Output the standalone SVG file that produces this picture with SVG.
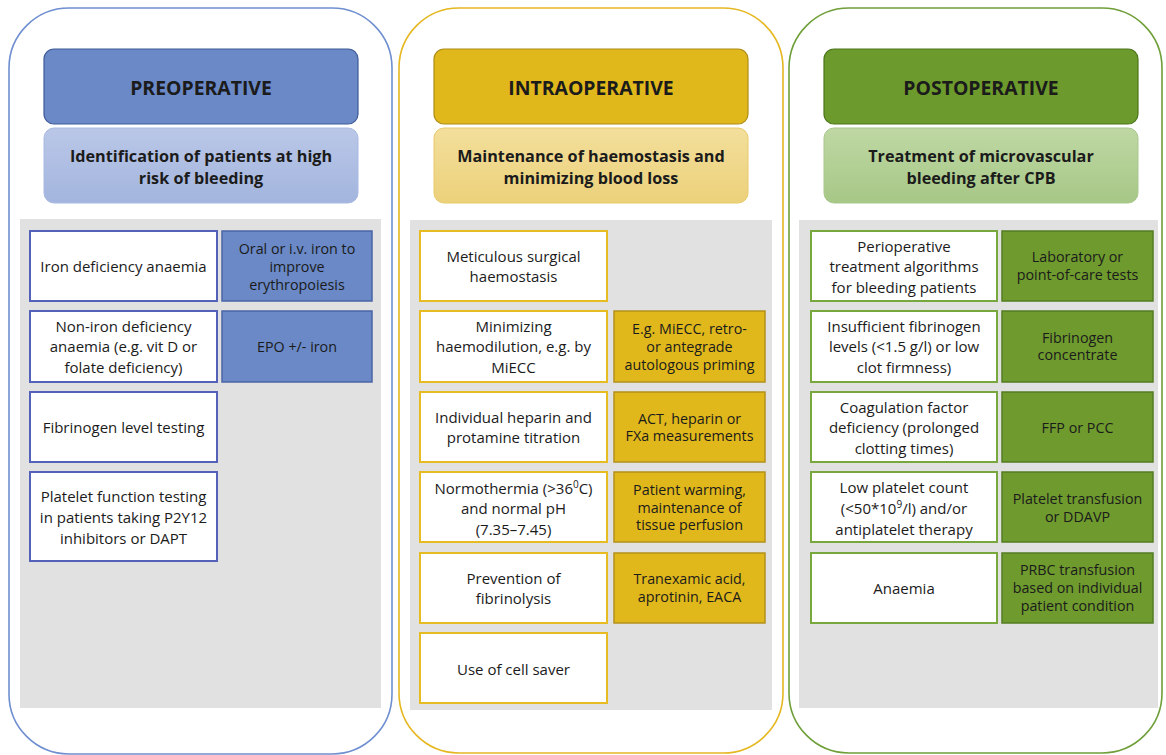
<svg xmlns="http://www.w3.org/2000/svg" width="1166" height="755" viewBox="0 0 1166 755">
<defs>
<linearGradient id="gBlue" x1="0" y1="0" x2="0" y2="1"><stop offset="0" stop-color="#bac7e7"/><stop offset="1" stop-color="#a3b5de"/></linearGradient>
<linearGradient id="gYel" x1="0" y1="0" x2="0" y2="1"><stop offset="0" stop-color="#f3df9c"/><stop offset="1" stop-color="#ecd17a"/></linearGradient>
<linearGradient id="gGrn" x1="0" y1="0" x2="0" y2="1"><stop offset="0" stop-color="#bfd8a4"/><stop offset="1" stop-color="#a6c786"/></linearGradient>
</defs>
<style>
text{font-family:"Open Sans","Liberation Sans",sans-serif;fill:#1b1b1b;text-anchor:middle}
.h{font-size:19.4px;font-weight:700}
.s{font-size:16.2px;font-weight:700}
.l{font-size:15px}
.r{font-size:14.3px}
.gray{fill:#e1e1e1}
.ob{fill:none;stroke:#6f8fd0;stroke-width:1.6}
.oy{fill:none;stroke:#e5b720;stroke-width:1.6}
.og{fill:none;stroke:#6f9f38;stroke-width:1.6}
.hb{fill:#6a89c6;stroke:#3e5a98;stroke-width:1.2}
.hy{fill:#e0b81b;stroke:#ae8c16;stroke-width:1.2}
.hg{fill:#6c9a2c;stroke:#4c761c;stroke-width:1.2}
.sb{fill:url(#gBlue);stroke:#a8bae2;stroke-width:1}
.sy{fill:url(#gYel);stroke:#e8ca6a;stroke-width:1}
.sg{fill:url(#gGrn);stroke:#a9c78c;stroke-width:1}
.wb{fill:#fff;stroke:#5362b8;stroke-width:2}
.wy{fill:#fff;stroke:#e6bc22;stroke-width:2}
.wg{fill:#fff;stroke:#78a73e;stroke-width:2}
.cb{fill:#6a89c6;stroke:#4a64a6;stroke-width:1.5}
.cy{fill:#e0b81b;stroke:#b2901a;stroke-width:1.5}
.cg{fill:#6e9a2e;stroke:#537c22;stroke-width:1.5}
</style>
<rect width="1166" height="755" fill="#fff"/>

<g id="col-pre">
<rect class="ob" x="9" y="8" width="383" height="746" rx="60"/>
<g id="pre-header"><rect class="hb" x="44" y="49" width="314" height="75" rx="10"/><text class="h" x="201" y="94.7">PREOPERATIVE</text></g>
<g id="pre-sub"><rect class="sb" x="44" y="128" width="314" height="75" rx="10"/><text class="s" x="201" y="161.5">Identification of patients at high</text><text class="s" x="201" y="183.5">risk of bleeding</text></g>
<rect class="gray" x="20" y="219" width="361" height="489"/>
<g id="pre-r1l"><rect class="wb" x="30" y="231" width="187" height="70"/><text class="l" x="123.5" y="271.6">Iron deficiency anaemia</text></g>
<g id="pre-r1r"><rect class="cb" x="222" y="231" width="150" height="70"/><text class="r" x="297" y="253.5">Oral or i.v. iron to</text><text class="r" x="297" y="271.5">improve</text><text class="r" x="297" y="289.5">erythropoiesis</text></g>
<g id="pre-r2l"><rect class="wb" x="30" y="311" width="187" height="71"/><text class="l" x="123.5" y="332">Non-iron deficiency</text><text class="l" x="123.5" y="352">anaemia (e.g. vit D or</text><text class="l" x="123.5" y="372.6">folate deficiency)</text></g>
<g id="pre-r2r"><rect class="cb" x="222" y="311" width="150" height="71"/><text class="r" x="297" y="351.5">EPO +/- iron</text></g>
<g id="pre-r3l"><rect class="wb" x="30" y="392" width="187" height="70"/><text class="l" x="123.5" y="433">Fibrinogen level testing</text></g>
<g id="pre-r4l"><rect class="wb" x="30" y="472" width="187" height="89"/><text class="l" x="123.5" y="502">Platelet function testing</text><text class="l" x="123.5" y="522.6">in patients taking P2Y12</text><text class="l" x="123.5" y="543.5">inhibitors or DAPT</text></g>
</g>

<g id="col-intra">
<rect class="oy" x="399" y="8" width="384" height="745" rx="60"/>
<g id="intra-header"><rect class="hy" x="434" y="49" width="314" height="75" rx="10"/><text class="h" x="591" y="94.7">INTRAOPERATIVE</text></g>
<g id="intra-sub"><rect class="sy" x="434" y="128" width="314" height="75" rx="10"/><text class="s" x="591" y="161.5">Maintenance of haemostasis and</text><text class="s" x="591" y="183.5">minimizing blood loss</text></g>
<rect class="gray" x="410" y="220" width="362" height="490"/>
<g id="intra-r1l"><rect class="wy" x="420" y="231" width="187" height="70"/><text class="l" x="513.5" y="261.5">Meticulous surgical</text><text class="l" x="513.5" y="282">haemostasis</text></g>
<g id="intra-r2l"><rect class="wy" x="420" y="311" width="187" height="71"/><text class="l" x="513.5" y="332">Minimizing</text><text class="l" x="513.5" y="352">haemodilution, e.g. by</text><text class="l" x="513.5" y="372.6">MiECC</text></g>
<g id="intra-r2r"><rect class="cy" x="614" y="311" width="151" height="71"/><text class="r" x="689.5" y="333.5">E.g. MiECC, retro-</text><text class="r" x="689.5" y="351.8">or antegrade</text><text class="r" x="689.5" y="370">autologous priming</text></g>
<g id="intra-r3l"><rect class="wy" x="420" y="392" width="187" height="70"/><text class="l" x="513.5" y="422.5">Individual heparin and</text><text class="l" x="513.5" y="443">protamine titration</text></g>
<g id="intra-r3r"><rect class="cy" x="614" y="392" width="151" height="70"/><text class="r" x="689.5" y="423.5">ACT, heparin or</text><text class="r" x="689.5" y="441.1">FXa measurements</text></g>
<g id="intra-r4l"><rect class="wy" x="420" y="472" width="187" height="70"/><text class="l" x="513.5" y="493.5">Normothermia (&gt;36<tspan font-size="10" dy="-5.5">0</tspan><tspan dy="5.5">C)</tspan></text><text class="l" x="513.5" y="513.6">and normal pH</text><text class="l" x="513.5" y="534.6">(7.35–7.45)</text></g>
<g id="intra-r4r"><rect class="cy" x="614" y="472" width="151" height="70"/><text class="r" x="689.5" y="495">Patient warming,</text><text class="r" x="689.5" y="512.8">maintenance of</text><text class="r" x="689.5" y="530.1">tissue perfusion</text></g>
<g id="intra-r5l"><rect class="wy" x="420" y="553" width="187" height="70"/><text class="l" x="513.5" y="583.6">Prevention of</text><text class="l" x="513.5" y="603.6">fibrinolysis</text></g>
<g id="intra-r5r"><rect class="cy" x="614" y="553" width="151" height="70"/><text class="r" x="689.5" y="583.5">Tranexamic acid,</text><text class="r" x="689.5" y="601.8">aprotinin, EACA</text></g>
<g id="intra-r6l"><rect class="wy" x="420" y="633" width="187" height="70"/><text class="l" x="513.5" y="674.6">Use of cell saver</text></g>
</g>

<g id="col-post">
<rect class="og" x="789" y="8" width="373" height="745" rx="60"/>
<g id="post-header"><rect class="hg" x="824" y="49" width="314" height="75" rx="10"/><text class="h" x="981" y="94.7">POSTOPERATIVE</text></g>
<g id="post-sub"><rect class="sg" x="824" y="128" width="314" height="75" rx="10"/><text class="s" x="981" y="161.5">Treatment of microvascular</text><text class="s" x="981" y="183.5">bleeding after CPB</text></g>
<rect class="gray" x="799" y="220" width="359" height="488"/>
<g id="post-r1l"><rect class="wg" x="811" y="231" width="186" height="70"/><text class="l" x="904" y="251.5">Perioperative</text><text class="l" x="904" y="272">treatment algorithms</text><text class="l" x="904" y="292.6">for bleeding patients</text></g>
<g id="post-r1r"><rect class="cg" x="1002" y="231" width="151" height="70"/><text class="r" x="1077.5" y="261.8">Laboratory or</text><text class="r" x="1077.5" y="279.5">point-of-care tests</text></g>
<g id="post-r2l"><rect class="wg" x="811" y="311" width="186" height="71"/><text class="l" x="904" y="332">Insufficient fibrinogen</text><text class="l" x="904" y="352">levels (&lt;1.5 g/l) or low</text><text class="l" x="904" y="372.6">clot firmness)</text></g>
<g id="post-r2r"><rect class="cg" x="1002" y="311" width="151" height="71"/><text class="r" x="1077.5" y="342.5">Fibrinogen</text><text class="r" x="1077.5" y="360.1">concentrate</text></g>
<g id="post-r3l"><rect class="wg" x="811" y="392" width="186" height="70"/><text class="l" x="904" y="412.6">Coagulation factor</text><text class="l" x="904" y="433">deficiency (prolonged</text><text class="l" x="904" y="453.6">clotting times)</text></g>
<g id="post-r3r"><rect class="cg" x="1002" y="392" width="151" height="70"/><text class="r" x="1077.5" y="432.5">FFP or PCC</text></g>
<g id="post-r4l"><rect class="wg" x="811" y="472" width="186" height="70"/><text class="l" x="904" y="492.6">Low platelet count</text><text class="l" x="904" y="513.6">(&lt;50*10<tspan font-size="10" dy="-5.5">9</tspan><tspan dy="5.5">/l) and/or</tspan></text><text class="l" x="904" y="534.6">antiplatelet therapy</text></g>
<g id="post-r4r"><rect class="cg" x="1002" y="472" width="151" height="70"/><text class="r" x="1077.5" y="503.5">Platelet transfusion</text><text class="r" x="1077.5" y="521.8">or DDAVP</text></g>
<g id="post-r5l"><rect class="wg" x="811" y="553" width="186" height="70"/><text class="l" x="904" y="593.6">Anaemia</text></g>
<g id="post-r5r"><rect class="cg" x="1002" y="553" width="151" height="70"/><text class="r" x="1077.5" y="575.1">PRBC transfusion</text><text class="r" x="1077.5" y="592.8">based on individual</text><text class="r" x="1077.5" y="610.8">patient condition</text></g>
</g>
</svg>
